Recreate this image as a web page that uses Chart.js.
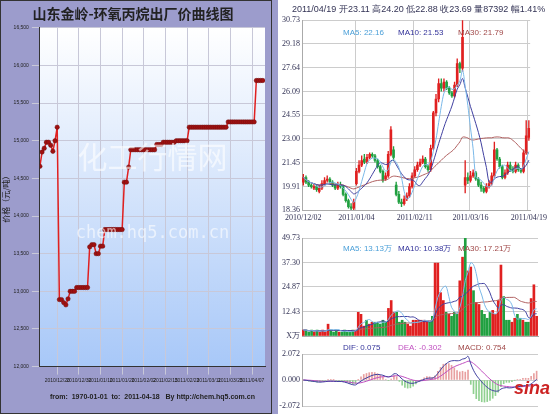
<!DOCTYPE html>
<html><head><meta charset="utf-8">
<script src="https://cdn.jsdelivr.net/npm/chart.js@4"></script>
<style>
body{margin:0;width:550px;height:414px;background:#fff;position:relative;overflow:hidden;font-family:"DejaVu Sans",sans-serif}
#left{position:absolute;left:0;top:0;width:272px;height:414px;background:#9c9ccc;border:1px solid #333;box-sizing:border-box}
#right{position:absolute;left:272px;top:0;width:278px;height:414px;border-left:6px solid #9c9ccc;box-sizing:border-box}
.c{position:absolute}
.t{position:absolute;font-size:8px;white-space:nowrap;font-family:"Liberation Sans Narrow","Liberation Sans",sans-serif}
</style></head><body>
<div id="left"><canvas id="price" width="270" height="412"></canvas></div>
<div id="right">
<div class="c" style="left:0;top:0"><canvas id="kline" width="272" height="226"></canvas></div>
<div class="c" style="left:0;top:226px"><canvas id="vol" width="272" height="118"></canvas></div>
<div class="c" style="left:0;top:344px"><canvas id="macd" width="272" height="70"></canvas></div>
<div class="t" style="left:14px;top:3px;color:#335;font-size:9px">2011/04/19 开23.11 高24.20 低22.88 收23.69 量87392 幅1.41%</div>
<div class="t" style="left:65px;top:28px;color:#4a9fd8">MA5: 22.16</div>
<div class="t" style="left:120px;top:28px;color:#33339a">MA10: 21.53</div>
<div class="t" style="left:180px;top:28px;color:#a04848">MA30: 21.79</div>
<div class="t" style="left:65px;top:243px;color:#4a9fd8">MA5: 13.13万</div>
<div class="t" style="left:120px;top:243px;color:#33339a">MA10: 10.38万</div>
<div class="t" style="left:180px;top:243px;color:#a04848">MA30: 17.21万</div>
<div class="t" style="left:65px;top:343px;color:#33339a">DIF: 0.075</div>
<div class="t" style="left:120px;top:343px;color:#c050c0">DEA: -0.302</div>
<div class="t" style="left:180px;top:343px;color:#a04848">MACD: 0.754</div>
<div class="t" style="left:236px;top:378px;color:#c22;font-size:18px;font-weight:bold;font-style:italic">sina</div>
</div>
<script>
// ---- left: factory price (yuan/ton)
const priceTicks = ['2010/12/20','2010/12/30','2011/01/10','2011/01/20','2011/02/02','2011/02/15','2011/02/23','2011/03/11','2011/03/25','2011/04/07'];
const priceValues = [
 14660,14850,14900,14980,14980,14940,14860,15000,15180,
 12890,12890,12850,12820,12900,13000,13000,13000,13050,13050,13050,13050,13050,13050,
 13590,13620,13620,13500,13500,13600,13600,13820,13820,13820,13820,13820,13820,13820,13820,13820,
 14450,14450,14650,14880,14880,14880,14880,14880,14880,14880,14880,14880,14880,14880,14880,
 14950,14950,14950,14980,14980,14980,14980,14980,14980,15000,15000,15000,15000,15000,15000,
 15180,15180,15180,15180,15180,15180,15180,15180,15180,15180,15180,15180,15180,15180,15180,15180,15180,15180,
 15250,15250,15250,15250,15250,15250,15250,15250,15250,15250,15250,15250,15250,
 15800,15800,15800,15800
];

// ---- right: daily k-line
const kDates = {0:'2010/12/02',20:'2011/01/04',42:'2011/02/11',63:'2011/03/16',85:'2011/04/19'};
const kOpen = [
 20.2,20.5,20.2,20.0,19.8,19.9,19.6,19.8,20.1,20.3,20.4,20.2,20.0,19.8,20.0,19.9,19.4,19.0,18.6,18.5,
 20.1,20.9,21.3,21.7,21.5,21.8,22.0,21.9,21.6,21.2,20.9,20.4,20.6,22.0,22.3,20.0,19.4,18.9,18.8,19.1,19.3,19.9,
 20.6,21.0,21.3,21.5,21.7,21.2,21.0,22.4,24.7,25.6,26.6,26.3,26.7,26.3,26.0,25.8,26.5,27.9,27.6,20.0,
 20.5,20.3,20.6,20.8,20.4,20.0,19.8,19.6,19.9,20.1,20.6,22.3,21.7,21.2,20.5,20.8,21.3,21.0,20.9,21.3,21.0,20.9,22.1,23.1
];
const kClose = [
 20.5,20.2,20.0,19.9,19.9,19.7,19.8,20.1,20.3,20.4,20.2,20.0,19.8,20.0,19.9,19.4,19.0,18.6,18.5,18.9,
 20.9,21.3,21.6,21.5,21.8,22.0,21.9,21.6,21.2,20.9,20.3,20.6,22.0,23.6,21.8,19.4,18.9,18.8,19.1,19.3,19.9,20.6,
 21.0,21.3,21.5,21.7,21.2,21.0,22.4,24.7,25.6,26.6,26.3,26.7,26.3,26.0,25.8,26.5,27.9,27.6,29.6,20.5,
 20.3,20.6,20.8,20.4,20.0,19.8,19.6,19.9,20.1,20.6,22.3,21.7,21.2,20.5,20.8,21.3,21.0,20.9,21.3,21.0,20.9,22.1,23.2,23.7
];
const kHigh = [
 20.7,20.6,20.3,20.1,20.1,20.0,20.0,20.3,20.5,20.6,20.5,20.3,20.1,20.2,20.2,20.0,19.5,19.1,18.8,19.1,
 21.1,21.6,21.9,22.0,22.0,22.1,22.1,22.0,21.7,21.3,21.0,20.8,22.2,23.8,22.5,20.2,19.6,19.1,19.3,19.5,20.1,20.8,
 21.2,21.5,21.7,21.9,21.8,21.3,22.6,24.8,25.9,26.9,26.9,26.9,26.8,26.4,26.1,26.7,28.2,28.0,30.7,21.6,
 20.8,20.9,21.0,20.9,20.5,20.2,19.9,20.1,20.3,20.8,22.8,22.4,21.8,21.3,21.0,21.5,21.5,21.2,21.5,21.4,21.1,22.3,24.2,24.2
];
const kLow = [
 20.0,20.1,19.9,19.8,19.7,19.6,19.5,19.7,20.0,20.2,20.1,19.9,19.7,19.7,19.8,19.3,18.9,18.5,18.4,18.4,
 20.0,20.8,21.2,21.4,21.4,21.7,21.8,21.5,21.1,20.8,20.2,20.3,20.5,21.9,21.6,19.3,18.8,18.6,18.7,19.0,19.2,19.8,
 20.5,20.9,21.2,21.4,21.1,20.9,20.9,22.3,24.5,25.4,26.1,26.1,26.2,25.9,25.7,25.7,26.4,27.3,27.4,19.5,
 20.1,20.2,20.5,20.3,19.9,19.6,19.5,19.5,19.8,20.0,20.5,21.6,21.1,20.4,20.4,20.7,20.9,20.8,20.8,20.9,20.8,20.8,22.0,22.9
];
const kVolume = [
 3,3,2,3,2,3,2,3,2,6,3,2,3,2,2,3,2,2,3,3,
 12,11,5,8,6,7,7,7,6,8,7,14,18,12,12,7,8,7,6,5,8,8,
 8,8,8,7,7,10,37,37,22,18,12,11,10,12,11,28,40,50,33,35,
 23,17,16,13,11,9,12,13,11,18,36,20,8,8,7,9,11,9,8,7,7,19,26,10
];

const RED = '#e02020', GREEN = '#20a040';
const idx = kClose.map((_, i) => i);
const up = kClose.map((c, i) => c >= kOpen[i]);
const ma = (arr, p) => arr.map((_, i) => {
  const s = arr.slice(Math.max(0, i - p + 1), i + 1);
  return s.reduce((a, b) => a + b, 0) / s.length;
});
const ema = (arr, p) => { const k = 2 / (p + 1); let e = arr[0]; return arr.map(v => (e = v * k + e * (1 - k))); };
const e12 = ema(kClose, 12), e26 = ema(kClose, 26);
const dif = e12.map((v, i) => v - e26[i]);
const dea = ema(dif, 9);
const hist = dif.map((v, i) => 2 * (v - dea[i]));

const tickFont = { size: 8, family: 'Liberation Sans Narrow' };
const fixWidth = s => { s.width = 24; };
const exactTicks = list => sc => { sc.ticks = list.map(v => ({ value: v })); };
const grid = { color: '#ccc', borderDash: [2, 2], drawTicks: false };
const lineDs = (data, color) => ({ type: 'line', data, borderColor: color, borderWidth: 1, pointRadius: 0, tension: 0.3 });

// left chart
const plotBg = {
  id: 'plotBg',
  beforeDraw(c) {
    const { ctx, chartArea: a } = c;
    const g = ctx.createLinearGradient(0, a.top, 0, a.bottom);
    g.addColorStop(0, '#ffffff'); g.addColorStop(1, '#a8c8f8');
    ctx.fillStyle = g; ctx.fillRect(a.left, a.top, a.width, a.height);
  },
  afterDatasetsDraw(c) {
    const { ctx, chartArea: a } = c;
    ctx.save(); ctx.fillStyle = 'rgba(255,255,255,0.6)'; ctx.textAlign = 'center';
    ctx.font = '30px "Noto Sans CJK SC"'; ctx.fillText('化工行情网', (a.left + a.right) / 2, a.top + 140);
    ctx.font = '17px "DejaVu Sans Mono"'; ctx.fillText('chem.hq5.com.cn', (a.left + a.right) / 2, a.top + 210);
    ctx.restore();
  }
};
new Chart(document.getElementById('price'), {
  type: 'line',
  data: { datasets: [{ data: priceValues.map((v, i) => ({ x: i, y: v })), borderColor: '#e02020', borderWidth: 1.5,
    pointRadius: 2.2, pointBackgroundColor: '#a01010', pointBorderColor: '#701010', pointBorderWidth: 0.5, tension: 0 }] },
  options: {
    responsive: false, animation: false,
    layout: { padding: { right: 6, left: 0, bottom: 8 } },
    plugins: { legend: { display: false },
      title: { display: true, text: '山东金岭-环氧丙烷出厂价曲线图', color: '#222', font: { size: 14, family: 'Noto Sans CJK SC' }, padding: { top: 4, bottom: 6 } } },
    scales: {
      x: { type: 'linear', min: 0, max: 104, afterBuildTicks: exactTicks(priceTicks.map((_, i) => 8 + i * 10)),
        ticks: { color: '#222', font: { size: 5 }, maxRotation: 0, minRotation: 0, autoSkip: false, callback: v => priceTicks[(v - 8) / 10] },
        grid: { color: '#c8c8d8' }, border: { color: '#333' },
        title: { display: true, text: 'from:  1970-01-01  to:  2011-04-18   By http://chem.hq5.com.cn', color: '#222', font: { size: 7, weight: 'bold' }, padding: { top: 6 } } },
      y: { min: 12000, max: 16500, ticks: { stepSize: 500, color: '#222', font: { size: 5 } },
        grid: { color: '#c8c8d8' }, border: { color: '#333' },
        title: { display: true, text: '价格（元/吨）', color: '#222', font: { size: 8, family: 'Noto Sans CJK SC' }, padding: 0 } }
    }
  },
  plugins: [plotBg]
});

// k-line
new Chart(document.getElementById('kline'), {
  type: 'bar',
  data: { labels: idx, datasets: [
    { data: idx.map(i => [kLow[i], kHigh[i]]), backgroundColor: up.map(u => u ? RED : GREEN), barThickness: 0.7, grouped: false, order: 2 },
    { data: idx.map(i => [kOpen[i], kClose[i]]), backgroundColor: up.map(u => u ? RED : GREEN), barThickness: 2, grouped: false, order: 1 },
    lineDs(ma(kClose, 5), '#7ab8e8'), lineDs(ma(kClose, 10), '#4040a0'), lineDs(ma(kClose, 30), '#b06060')
  ] },
  options: {
    responsive: false, animation: false, layout: { padding: { top: 20, right: 12 } },
    plugins: { legend: { display: false }, tooltip: { enabled: false } },
    scales: {
      x: { ticks: { autoSkip: false, maxRotation: 0, color: '#335', font: tickFont, callback: (v, i) => kDates[i] || '' },
        grid: { ...grid, display: true, color: ctx => kDates[ctx.index] ? '#ccc' : 'transparent' }, border: { color: '#aaa' } },
      y: { min: 18.36, max: 30.73, afterFit: fixWidth,
        afterBuildTicks: exactTicks([18.36,19.91,21.45,23.00,24.55,26.09,27.64,29.18,30.73]),
        ticks: { color: '#335', font: tickFont, callback: v => v.toFixed(2), padding: 2 }, grid, border: { color: '#aaa' } }
    }
  }
});

// volume
new Chart(document.getElementById('vol'), {
  type: 'bar',
  data: { labels: idx, datasets: [
    { data: kVolume, backgroundColor: up.map(u => u ? RED : GREEN), barThickness: 2, order: 2 },
    lineDs(ma(kVolume, 5), '#7ab8e8'), lineDs(ma(kVolume, 10), '#4040a0'), lineDs(ma(kVolume, 30), '#b06060')
  ] },
  options: {
    responsive: false, animation: false, layout: { padding: { top: 12, right: 12 } },
    plugins: { legend: { display: false }, tooltip: { enabled: false } },
    scales: {
      x: { ticks: { display: false }, grid: { display: false }, border: { color: '#aaa' } },
      y: { min: 0, max: 49.73, afterFit: fixWidth, afterBuildTicks: exactTicks([0,12.43,24.87,37.30,49.73]),
        ticks: { color: '#335', font: tickFont, callback: v => v === 0 ? 'X万' : v.toFixed(2), padding: 2 }, grid, border: { color: '#aaa' } }
    }
  }
});

// macd
new Chart(document.getElementById('macd'), {
  type: 'bar',
  data: { labels: idx, datasets: [
    { data: hist, backgroundColor: hist.map(h => h >= 0 ? '#e8a0a0' : '#90d090'), barThickness: 1, order: 2 },
    lineDs(dif, '#4040a0'), lineDs(dea, '#c050c0')
  ] },
  options: {
    responsive: false, animation: false, layout: { padding: { top: 10, right: 12 } },
    plugins: { legend: { display: false }, tooltip: { enabled: false } },
    scales: {
      x: { ticks: { display: false }, grid: { display: false }, border: { display: false } },
      y: { min: -2.072, max: 2.072, afterFit: fixWidth, afterBuildTicks: exactTicks([-2.072, 0, 2.072]),
        ticks: { color: '#335', font: tickFont, callback: v => v.toFixed(3), padding: 2 }, grid, border: { color: '#aaa' } }
    }
  }
});
</script>
</body></html>
